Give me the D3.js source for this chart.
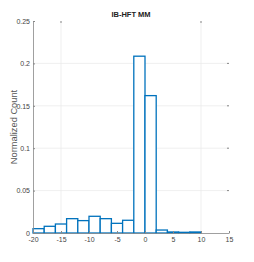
<!DOCTYPE html>
<html>
<head>
<meta charset="utf-8">
<script src="https://cdn.jsdelivr.net/npm/d3@7"></script>
<style>
  body { margin: 0; background: #fff; }
  svg { font-family: "Liberation Sans", Arial, sans-serif; }
</style>
</head>
<body>
<svg class="chart"></svg>
<script>
const width = 254;
const height = 262;

// data: bin edges (width 2) and normalized counts
const binStarts = [-20, -18, -16, -14, -12, -10, -8, -6, -4, -2, 0, 2, 4, 6, 8];
const binWidth = 2;
const counts = [0.0051, 0.0079, 0.0106, 0.0169, 0.0146, 0.0197, 0.0169, 0.0114, 0.015, 0.2085, 0.162, 0.0035, 0.0012, 0.0008, 0.0012];

const xTicks = [-20, -15, -10, -5, 0, 5, 10, 15];
const yTicks = [0, 0.05, 0.1, 0.15, 0.2, 0.25];
const xGrid = [-15, 10];
const yGrid = [0.05, 0.1, 0.15, 0.2];

const margin = {left: 33, right: 25, top: 21, bottom: 29};

const svg = d3.select('.chart')
    .attr('width', width)
    .attr('height', height);

const x = d3.scaleLinear()
    .domain([-20, 15])
    .range([margin.left, width - margin.right]);

const y = d3.scaleLinear()
    .domain([0, 0.25])
    .range([height - margin.bottom, margin.top]);

// grid
svg.append('g').selectAll('line')
    .data(yGrid).enter()
    .append('line')
    .attr('x1', x(-20)).attr('x2', x(15))
    .attr('y1', d => y(d)).attr('y2', d => y(d))
    .attr('stroke', '#ebebeb')
    .attr('stroke-width', 0.8);

svg.append('g').selectAll('line')
    .data(xGrid).enter()
    .append('line')
    .attr('x1', d => x(d)).attr('x2', d => x(d))
    .attr('y1', y(0)).attr('y2', y(0.25))
    .attr('stroke', '#ebebeb')
    .attr('stroke-width', 0.8);

// top ticks / right ticks
svg.append('g').selectAll('line')
    .data(xGrid).enter()
    .append('line')
    .attr('x1', d => x(d)).attr('x2', d => x(d))
    .attr('y1', y(0.25)).attr('y2', y(0.25) + 2)
    .attr('stroke', '#888');

svg.append('g').selectAll('line')
    .data(yGrid).enter()
    .append('line')
    .attr('x1', x(15) - 2).attr('x2', x(15))
    .attr('y1', d => y(d)).attr('y2', d => y(d))
    .attr('stroke', '#888');

// bars
svg.append('g').selectAll('rect')
    .data(counts).enter()
    .append('rect')
    .attr('x', (d, i) => x(binStarts[i]))
    .attr('y', d => y(d))
    .attr('width', (d, i) => x(binStarts[i] + binWidth) - x(binStarts[i]))
    .attr('height', d => y(0) - y(d))
    .attr('fill', '#fff')
    .attr('stroke', '#0072BD')
    .attr('stroke-width', 1.3);

// axes
const xAxis = d3.axisBottom(x)
    .tickValues(xTicks)
    .tickSize(-2)
    .tickSizeOuter(0)
    .tickFormat(d => String(d));

const gx = svg.append('g')
    .attr('transform', `translate(0,${y(0)})`)
    .call(xAxis);

const yAxis = d3.axisLeft(y)
    .tickValues(yTicks)
    .tickSize(-2)
    .tickSizeOuter(0)
    .tickFormat(d => d === 0 ? '0' : String(d));

const gy = svg.append('g')
    .attr('transform', `translate(${x(-20)},0)`)
    .call(yAxis);

[gx, gy].forEach(g => {
    g.select('.domain').attr('stroke', '#888').attr('stroke-width', 0.8);
    g.selectAll('.tick line').attr('stroke', '#888');
    g.selectAll('.tick text')
        .attr('fill', '#444')
        .attr('font-size', 7)
        .attr('font-family', '"Liberation Sans", Arial, sans-serif');
});
gx.selectAll('.tick text').attr('dy', '0.9em');
gy.selectAll('.tick text').attr('x', -3);

// title
svg.append('text')
    .attr('text-anchor', 'middle')
    .attr('x', (x(-20) + x(15)) / 2)
    .attr('y', 17)
    .attr('font-size', 7.5)
    .attr('font-weight', 'bold')
    .attr('fill', '#222')
    .text('IB-HFT MM');

// y label
svg.append('text')
    .attr('text-anchor', 'middle')
    .attr('transform', `translate(17,${(y(0) + y(0.25)) / 2}) rotate(-90)`)
    .attr('font-size', 9.3)
    .attr('fill', '#555')
    .text('Normalized Count');
</script>
</body>
</html>
